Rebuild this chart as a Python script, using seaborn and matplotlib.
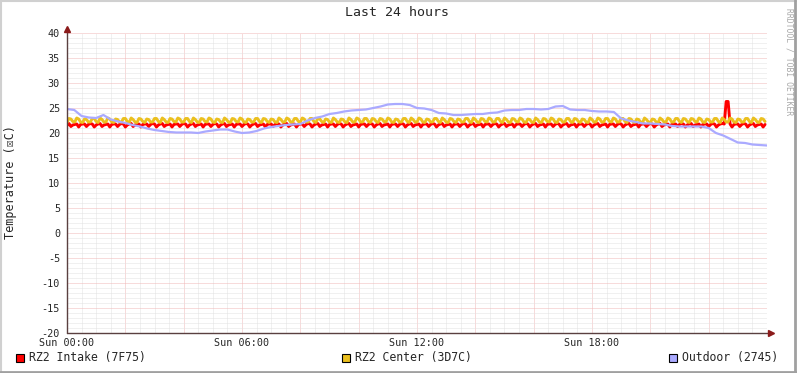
import numpy as np
import pandas as pd
import seaborn as sns
import matplotlib.pyplot as plt
from matplotlib.patches import Rectangle
from matplotlib.lines import Line2D

sns.set_style("white")
plt.rcParams['font.family'] = ['DejaVu Sans Mono', 'DejaVu Sans']

# textos
titulo = "Last 24 hours"
etiqueta_y = "Temperature (☒C)"
marca_agua = "RRDTOOL / TOBI OETIKER"
horas_ticks = [0, 2, 4, 6, 8, 10, 12, 14, 16, 18, 20, 22]
etiquetas_x = ["Sun 00:00", "", "", "Sun 06:00", "", "", "Sun 12:00", "", "", "Sun 18:00", "", ""]
valores_y = [-20, -15, -10, -5, 0, 5, 10, 15, 20, 25, 30, 35, 40]
nombres = ["RZ2 Intake (7F75)", "RZ2 Center (3D7C)", "Outdoor (2745)"]
colores = ["#FF0000", "#EBC01E", "#AAAAFF"]
grosores = [2.1, 2.1, 1.6]

# RZ2 Intake, una muestra cada 4 minutos
intake = [
    21.5, 21.9, 21.3, 21.6, 21.7, 21.8, 21.2, 21.7, 21.8, 21.8, 21.3, 21.7, 21.9, 21.8, 21.2, 21.6, 21.8, 21.9, 21.3, 21.6,
    21.7, 21.8, 21.2, 21.7, 21.8, 21.8, 21.3, 21.7, 21.9, 21.8, 21.2, 21.6, 21.8, 21.9, 21.3, 21.6, 21.7, 21.8, 21.2, 21.7,
    21.8, 21.8, 21.3, 21.7, 21.9, 21.8, 21.2, 21.6, 21.8, 21.9, 21.3, 21.6, 21.7, 21.8, 21.2, 21.7, 21.8, 21.8, 21.3, 21.7,
    21.9, 21.8, 21.2, 21.6, 21.8, 21.9, 21.3, 21.6, 21.7, 21.8, 21.2, 21.7, 21.8, 21.8, 21.3, 21.7, 21.9, 21.8, 21.2, 21.6,
    21.8, 21.9, 21.3, 21.6, 21.7, 21.8, 21.2, 21.7, 21.8, 21.8, 21.3, 21.7, 21.9, 21.8, 21.2, 21.6, 21.8, 21.9, 21.3, 21.6,
    21.7, 21.8, 21.2, 21.7, 21.8, 21.8, 21.3, 21.7, 21.9, 21.8, 21.2, 21.6, 21.8, 21.9, 21.3, 21.6, 21.7, 21.8, 21.2, 21.7,
    21.8, 21.8, 21.3, 21.7, 21.9, 21.8, 21.2, 21.6, 21.8, 21.9, 21.3, 21.6, 21.7, 21.8, 21.2, 21.7, 21.8, 21.8, 21.3, 21.7,
    21.9, 21.8, 21.2, 21.6, 21.8, 21.9, 21.3, 21.6, 21.7, 21.8, 21.2, 21.7, 21.8, 21.8, 21.3, 21.7, 21.9, 21.8, 21.2, 21.6,
    21.8, 21.9, 21.3, 21.6, 21.7, 21.8, 21.2, 21.7, 21.8, 21.8, 21.3, 21.7, 21.9, 21.8, 21.2, 21.6, 21.8, 21.9, 21.3, 21.6,
    21.7, 21.8, 21.2, 21.7, 21.8, 21.8, 21.3, 21.7, 21.9, 21.8, 21.2, 21.6, 21.8, 21.9, 21.3, 21.6, 21.7, 21.8, 21.2, 21.7,
    21.8, 21.8, 21.3, 21.7, 21.9, 21.8, 21.2, 21.6, 21.8, 21.9, 21.3, 21.6, 21.7, 21.8, 21.2, 21.7, 21.8, 21.8, 21.3, 21.7,
    21.9, 21.8, 21.2, 21.6, 21.8, 21.9, 21.3, 21.6, 21.7, 21.8, 21.2, 21.7, 21.8, 21.8, 21.3, 21.7, 21.9, 21.8, 21.2, 21.6,
    21.8, 21.9, 21.3, 21.6, 21.7, 21.8, 21.2, 21.7, 21.8, 21.8, 21.3, 21.7, 21.9, 21.8, 21.2, 21.6, 21.8, 21.9, 21.3, 21.6,
    21.7, 21.8, 21.2, 21.7, 21.8, 21.8, 21.3, 21.7, 21.9, 21.8, 21.2, 21.6, 21.8, 21.9, 21.3, 21.6, 21.7, 21.8, 21.2, 21.7,
    21.8, 21.8, 21.3, 21.7, 21.9, 21.8, 21.2, 21.6, 21.8, 21.9, 21.3, 21.6, 21.7, 21.8, 21.2, 21.7, 21.8, 21.8, 21.3, 21.7,
    21.9, 21.8, 21.2, 21.6, 21.8, 21.9, 21.3, 21.6, 21.7, 21.8, 21.2, 21.7, 21.8, 21.8, 21.3, 21.7, 21.9, 21.8, 21.2, 21.6,
    21.8, 21.9, 21.3, 21.6, 21.7, 21.8, 21.2, 21.7, 21.8, 21.8, 21.3, 21.7, 21.9, 21.8, 21.2, 21.6, 21.8, 21.9, 21.8, 26.3,
    26.3, 21.8, 21.2, 21.7, 21.8, 21.8, 21.3, 21.7, 21.9, 21.8, 21.2, 21.6, 21.8, 21.9, 21.3, 21.6, 21.7, 21.8, 21.2, 21.7,
]

# RZ2 Center, una muestra cada 4 minutos
center = [
    22.1, 22.9, 22.8, 22.3, 22.2, 23.0, 22.8, 22.2, 22.1, 22.8, 22.7, 22.2, 22.2, 22.9, 22.9, 22.3, 22.1, 23.0, 22.7, 22.2,
    22.2, 23.0, 22.8, 22.2, 22.1, 22.8, 22.7, 22.2, 22.2, 22.9, 22.9, 22.3, 22.1, 23.0, 22.7, 22.2, 22.1, 22.9, 22.8, 22.3,
    22.1, 22.8, 22.7, 22.2, 22.2, 22.9, 22.9, 22.3, 22.1, 23.0, 22.7, 22.2, 22.1, 22.9, 22.8, 22.3, 22.2, 23.0, 22.8, 22.2,
    22.2, 22.9, 22.9, 22.3, 22.1, 23.0, 22.7, 22.2, 22.1, 22.9, 22.8, 22.3, 22.2, 23.0, 22.8, 22.2, 22.1, 22.8, 22.7, 22.2,
    22.1, 23.0, 22.7, 22.2, 22.1, 22.9, 22.8, 22.3, 22.2, 23.0, 22.8, 22.2, 22.1, 22.8, 22.7, 22.2, 22.2, 22.9, 22.9, 22.3,
    22.1, 22.9, 22.8, 22.3, 22.1, 22.8, 22.7, 22.2, 22.1, 23.0, 22.7, 22.2, 22.2, 23.0, 22.8, 22.2, 22.2, 22.9, 22.9, 22.3,
    22.2, 23.0, 22.8, 22.2, 22.2, 22.9, 22.9, 22.3, 22.1, 22.9, 22.8, 22.3, 22.1, 22.8, 22.7, 22.2, 22.1, 23.0, 22.7, 22.2,
    22.1, 22.8, 22.7, 22.2, 22.1, 23.0, 22.7, 22.2, 22.2, 23.0, 22.8, 22.2, 22.2, 22.9, 22.9, 22.3, 22.1, 22.9, 22.8, 22.3,
    22.1, 22.9, 22.8, 22.3, 22.2, 23.0, 22.8, 22.2, 22.1, 22.8, 22.7, 22.2, 22.2, 22.9, 22.9, 22.3, 22.1, 23.0, 22.7, 22.2,
    22.2, 23.0, 22.8, 22.2, 22.1, 22.8, 22.7, 22.2, 22.2, 22.9, 22.9, 22.3, 22.1, 23.0, 22.7, 22.2, 22.1, 22.9, 22.8, 22.3,
    22.1, 22.8, 22.7, 22.2, 22.2, 22.9, 22.9, 22.3, 22.1, 23.0, 22.7, 22.2, 22.1, 22.9, 22.8, 22.3, 22.2, 23.0, 22.8, 22.2,
    22.2, 22.9, 22.9, 22.3, 22.1, 23.0, 22.7, 22.2, 22.1, 22.9, 22.8, 22.3, 22.2, 23.0, 22.8, 22.2, 22.1, 22.8, 22.7, 22.2,
    22.1, 23.0, 22.7, 22.2, 22.1, 22.9, 22.8, 22.3, 22.2, 23.0, 22.8, 22.2, 22.1, 22.8, 22.7, 22.2, 22.2, 22.9, 22.9, 22.3,
    22.1, 22.9, 22.8, 22.3, 22.1, 22.8, 22.7, 22.2, 22.1, 23.0, 22.7, 22.2, 22.2, 23.0, 22.8, 22.2, 22.2, 22.9, 22.9, 22.3,
    22.2, 23.0, 22.8, 22.2, 22.2, 22.9, 22.9, 22.3, 22.1, 22.9, 22.8, 22.3, 22.1, 22.8, 22.7, 22.2, 22.1, 23.0, 22.7, 22.2,
    22.1, 22.8, 22.7, 22.2, 22.1, 23.0, 22.7, 22.2, 22.2, 23.0, 22.8, 22.2, 22.2, 22.9, 22.9, 22.3, 22.1, 22.9, 22.8, 22.3,
    22.1, 22.9, 22.8, 22.3, 22.2, 23.0, 22.8, 22.2, 22.1, 22.8, 22.7, 22.2, 22.2, 22.9, 22.9, 22.3, 22.1, 23.0, 22.7, 22.2,
    22.2, 23.0, 22.8, 22.2, 22.1, 22.8, 22.7, 22.2, 22.2, 22.9, 22.9, 22.3, 22.1, 23.0, 22.7, 22.2, 22.1, 22.9, 22.8, 22.3,
]

# Outdoor, una muestra cada 15 minutos
outdoor = [
    24.8, 24.6, 23.4, 23.1, 23.0, 23.6, 22.7, 22.3, 22.0, 21.6, 21.3, 20.9, 20.6, 20.4, 20.2, 20.1,
    20.1, 20.1, 20.0, 20.3, 20.5, 20.7, 20.7, 20.3, 20.0, 20.1, 20.4, 20.9, 21.2, 21.4, 21.6, 21.7,
    21.8, 22.5, 23.0, 23.3, 23.8, 24.0, 24.3, 24.5, 24.6, 24.7, 25.0, 25.3, 25.7, 25.8, 25.8, 25.6,
    25.0, 24.9, 24.6, 24.0, 23.9, 23.6, 23.6, 23.7, 23.8, 23.8, 24.0, 24.1, 24.5, 24.6, 24.6, 24.8,
    24.8, 24.7, 24.8, 25.3, 25.4, 24.7, 24.6, 24.6, 24.4, 24.3, 24.3, 24.2, 22.9, 22.5, 22.2, 21.9,
    21.9, 21.8, 21.7, 21.4, 21.3, 21.3, 21.3, 21.3, 21.0, 20.0, 19.5, 18.8, 18.1, 18.0, 17.7, 17.6,
    17.5,
]

hora_rapida = np.arange(len(intake)) * 4 / 60
hora_lenta = np.arange(len(outdoor)) * 15 / 60

df_intake = pd.DataFrame({"hora": hora_rapida, "temp": intake})
df_center = pd.DataFrame({"hora": hora_rapida, "temp": center})
df_outdoor = pd.DataFrame({"hora": hora_lenta, "temp": outdoor})

fig = plt.figure(figsize=(7.97, 3.73), dpi=100)
fig.patch.set_facecolor("white")
ax = fig.add_axes([67 / 797, 1 - 333 / 373, 700 / 797, 300 / 373])
ax.set_facecolor("white")

for df, c, g in zip([df_intake, df_center, df_outdoor], colores, grosores):
    sns.lineplot(data=df, x="hora", y="temp", color=c, linewidth=g,
                 ax=ax, legend=False)

ax.set_xlim(0, 24)
ax.set_ylim(-20, 40)
ax.set_xlabel("")
ax.set_ylabel("")

# rejilla
ax.set_xticks(horas_ticks)
ax.set_xticklabels(etiquetas_x)
ax.set_xticks(np.arange(0, 24, 0.5), minor=True)
ax.set_yticks(valores_y)
ax.set_yticklabels([str(v) for v in valores_y])
ax.set_yticks(np.arange(-20, 41, 1), minor=True)
ax.grid(which="minor", color="#e2e2e2", linestyle=(0, (1, 1)), linewidth=0.72)
ax.grid(which="major", color="#f0b8b8", linestyle=(0, (1, 1)), linewidth=0.72)
ax.set_axisbelow(True)

ax.tick_params(which="major", length=2, width=0.72, color="#b06060",
               labelsize=7.3, pad=1.8, direction="out")
ax.tick_params(which="minor", length=1.5, width=0.72, color="#c8c8c8", direction="out")
ax.tick_params(axis="y", pad=3.0)
for s in ax.spines.values():
    s.set_visible(False)

# ejes con flecha
ax.plot([0, 0], [0, 1.013], transform=ax.transAxes, color="#5a4040", lw=1, clip_on=False)
ax.plot([0, 1.005], [0, 0], transform=ax.transAxes, color="#5a4040", lw=1, clip_on=False)
ax.plot([0], [1.013], marker="^", markersize=4.5, color="#8b1a1a",
        transform=ax.transAxes, clip_on=False)
ax.plot([1.006], [0], marker=">", markersize=4.5, color="#8b1a1a",
        transform=ax.transAxes, clip_on=False)

# textos
fig.text(397 / 797, 1 - 13 / 373, titulo, ha="center", va="center", fontsize=9.5)
fig.text(11 / 797, 1 - 182 / 373, etiqueta_y, rotation=90, ha="center", va="center", fontsize=8.5)
fig.text(789 / 797, 1 - 62 / 373, marca_agua, rotation=270, ha="center", va="center",
         fontsize=5.8, color="#a8a8a8")

# leyenda
x_cajas = [16, 342, 669]
for xb, nom, c in zip(x_cajas, nombres, colores):
    fig.add_artist(Rectangle((xb / 797, 1 - 362 / 373), 8 / 797, 8 / 373,
                             transform=fig.transFigure, facecolor=c,
                             edgecolor="black", linewidth=0.8))
    fig.text((xb + 13) / 797, 1 - 358 / 373, nom, ha="left", va="center", fontsize=8.3)

# marco de la imagen
fig.add_artist(Line2D([0, 1], [0.998, 0.998], transform=fig.transFigure, color="#d0d0d0", lw=1.5))
fig.add_artist(Line2D([0.001, 0.001], [0, 1], transform=fig.transFigure, color="#d0d0d0", lw=1.5))
fig.add_artist(Line2D([0.998, 0.998], [0, 1], transform=fig.transFigure, color="#a0a0a0", lw=2))
fig.add_artist(Line2D([0, 1], [0.004, 0.004], transform=fig.transFigure, color="#a0a0a0", lw=2))

fig.savefig("out.png", dpi=100)
